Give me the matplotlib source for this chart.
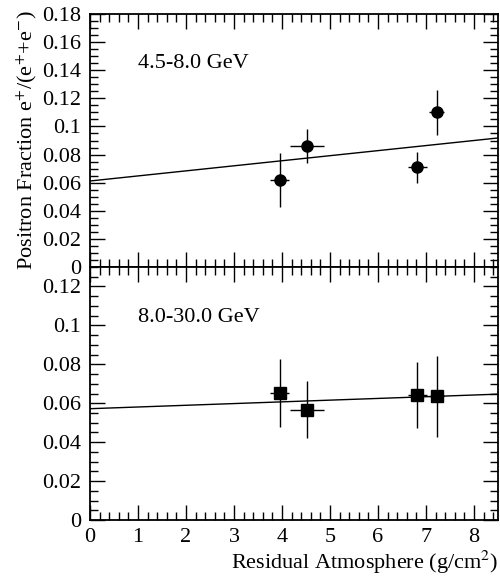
import matplotlib
matplotlib.use('Agg')
import matplotlib.pyplot as plt
from matplotlib.ticker import MultipleLocator
import numpy as np

plt.rcParams['font.family'] = ['Liberation Serif', 'DejaVu Serif']
plt.rcParams['mathtext.fontset'] = 'stix'

# residual atmosphere (g/cm^2) and its spread
atm = [3.95, 4.52, 6.82, 7.22]
atm_err = [0.2, 0.35, 0.2, 0.15]

# 4.5-8.0 GeV
frac_lo = [0.062, 0.086, 0.071, 0.110]
frac_lo_err_dn = [0.019, 0.012, 0.011, 0.016]
frac_lo_err_up = [0.019, 0.012, 0.011, 0.016]
fit_lo = [0.0612, 0.0036]   # intercept, slope

# 8.0-30.0 GeV
frac_hi = [0.0652, 0.0567, 0.0644, 0.0635]
frac_hi_err_dn = [0.0172, 0.0147, 0.0169, 0.0209]
frac_hi_err_up = [0.0177, 0.0149, 0.0166, 0.0210]
fit_hi = [0.0572, 0.00088]

fig = plt.figure(figsize=(5, 5.83), dpi=100)
ax1 = fig.add_axes([0.18, 0.542, 0.816, 0.434])
ax2 = fig.add_axes([0.18, 0.108, 0.816, 0.434], sharex=ax1)

xx = np.array([0, 8.5])
fs = 16

def panel(ax, y, ydn, yup, fit, marker, ms, label, ymax, ylbl_y):
    ax.errorbar(atm, y, xerr=atm_err, yerr=[ydn, yup], fmt=marker, color='black',
                ms=ms, elinewidth=1, capsize=0)
    ax.plot(xx, fit[0] + fit[1] * xx, color='black', lw=1)
    ax.set_xlim(0, 8.5)
    ax.set_ylim(0, ymax)
    ax.yaxis.set_major_locator(MultipleLocator(0.02))
    ax.yaxis.set_minor_locator(MultipleLocator(0.005))
    ax.xaxis.set_major_locator(MultipleLocator(1))
    ax.xaxis.set_minor_locator(MultipleLocator(0.2))
    ax.tick_params(which='both', direction='in', top=True, right=True, labelsize=fs,
                   width=1)
    ax.tick_params(which='major', length=10.8)
    ax.tick_params(which='minor', length=5.5)
    ax.tick_params(axis='y', which='major', pad=6.5)
    ax.tick_params(axis='x', which='major', pad=6)
    ax.yaxis.set_major_formatter(plt.FuncFormatter(lambda v, p: ('%g' % round(v, 3))))
    for s in ax.spines.values():
        s.set_linewidth(1.3)
    ax.text(1.0, ylbl_y, label, fontsize=fs, va='center')

panel(ax1, frac_lo, frac_lo_err_dn, frac_lo_err_up, fit_lo, 'o', 8, '4.5-8.0 GeV', 0.18, 0.145)
panel(ax2, frac_hi, frac_hi_err_dn, frac_hi_err_up, fit_hi, 's', 8.5, '8.0-30.0 GeV', 0.13, 0.104)
plt.setp(ax1.get_xticklabels(), visible=False)
ax2.set_yticks([0, 0.02, 0.04, 0.06, 0.08, 0.1, 0.12])

ax1.set_ylabel('Positron Fraction e$^{+}$/(e$^{+}$+e$^{-}$)', fontsize=fs, labelpad=2)
ax2.set_xlabel('Residual Atmosphere (g/cm$^{2}$)', fontsize=fs, loc='right', labelpad=1)

fig.savefig('out.png', dpi=100)
